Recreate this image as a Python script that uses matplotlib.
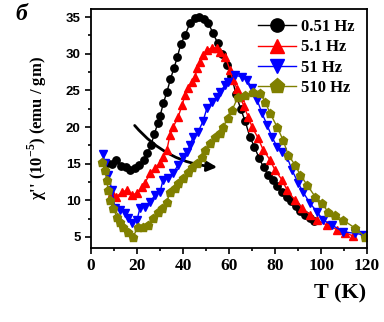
import matplotlib
matplotlib.use("Agg")
import matplotlib.pyplot as plt
from matplotlib.patches import FancyArrowPatch
from matplotlib.ticker import MultipleLocator

plt.rcParams['mathtext.fontset'] = 'custom'
plt.rcParams['mathtext.rm'] = 'Liberation Serif:bold'
plt.rcParams['mathtext.bf'] = 'Liberation Serif:bold'

# 0.51 Hz
t1 = [7, 9, 11, 13, 15, 17, 19, 21, 23, 24.5, 26, 27.5, 29, 30, 31.5, 33, 34.5, 36, 37.5,
      39, 41, 43, 45, 47, 49, 51, 53, 55, 57, 59, 61, 63, 65, 67, 69, 71, 73, 75, 77, 79,
      81, 83, 85, 87, 89, 91, 93, 95, 97]
v1 = [15.1, 14.9, 15.5, 14.7, 14.5, 14.2, 14.4, 14.8, 15.5, 16.4, 17.5, 19, 20.5, 21.5, 23.3,
      24.8, 26.5, 28, 29.5, 31.3, 32.6, 34.2, 34.9, 35, 34.7, 34.2, 32.8, 31.5, 30, 28.5, 27,
      24.5, 22.5, 20.8, 18.7, 17.3, 15.8, 14.5, 13.5, 12.8, 12, 11.2, 10.5, 9.9, 9.2, 8.6, 8,
      7.6, 7.2]

# 5.1 Hz
t2 = [9, 11, 13.5, 15.6, 17.8, 20, 22.2, 23.5, 25.7, 27.8, 30, 31.3, 33, 34.3, 35.7, 37.8,
      39.6, 40.9, 42.2, 43.9, 45.2, 46.1, 47.4, 48.7, 50.4, 52.6, 54.8, 56.1, 58.3, 60.4,
      61.7, 63.5, 64.8, 66.5, 68.3, 70, 72.6, 74.8, 77.8, 80, 83, 85.2, 88.7, 91.7, 95.2,
      98.3, 102.6, 107, 110.5, 114]
v2 = [11, 10.5, 11.1, 11.4, 10.7, 11, 11.8, 12.4, 13.7, 14.4, 15.1, 15.9, 16.9, 18.9, 20,
      21.3, 23, 24.4, 25.3, 26.1, 26.8, 28, 28.9, 29.8, 30.5, 30.8, 30.8, 30.2, 29.6, 27.8,
      26.4, 25.2, 24.1, 22.8, 21.4, 20, 18.5, 16.9, 15.5, 14.1, 12.8, 11.4, 10, 9, 8, 7.3,
      6.6, 6, 5.6, 5.1]

# 51 Hz
t3 = [5.2, 6, 7.4, 9.1, 10.4, 12.6, 14.8, 16.1, 17.8, 20, 21.3, 23.5, 25.7, 27.8, 30, 31.3,
      33.5, 35.7, 37.8, 40, 41.7, 43, 44.3, 46.5, 48.7, 50.4, 52.6, 54.8, 56, 58.3, 59.5,
      62.6, 65.7, 67.8, 70, 72.2, 74.3, 76.5, 78.7, 80.9, 83, 85.2, 87.4, 90, 92.2, 95.2,
      98.3, 100.9, 104.8, 109.6, 114.8, 118.3]
v3 = [16.3, 15.1, 13.5, 11.4, 9, 8.7, 8.3, 7.6, 6.9, 7.3, 9, 9.1, 9.8, 10.7, 11.1, 12.8, 13,
      13.7, 14.8, 15.9, 16.6, 17.5, 18.6, 19.3, 20.8, 22.6, 23.4, 24.1, 24.8, 25.7, 26.1,
      27.1, 26.8, 26.4, 25.3, 23.7, 21.9, 20.3, 18.6, 17.3, 16.6, 15.9, 14.1, 12.4, 11.1,
      9.6, 8.4, 7.3, 6.6, 5.7, 5.5, 5.3]

# 510 Hz
t4 = [4.8, 6, 6.8, 7.4, 8.3, 9.6, 11.3, 12.6, 13.9, 16.1, 18.3, 20.4, 22.6, 24.8, 27, 29.1,
      30.9, 33, 34.3, 36.5, 37.8, 40, 42.2, 43.9, 46.1, 48.3, 49.6, 51.7, 53.9, 56.1, 57.4,
      59.5, 61.3, 63.9, 67, 70.4, 73.5, 75.7, 77.8, 80.9, 83.5, 85.7, 88.7, 90.9, 93.9,
      97.4, 100.4, 103, 106, 109.6, 114.8, 119.1]
v4 = [15.2, 14.1, 12.8, 11.4, 10, 9, 7.7, 7, 6.4, 5.7, 5, 6.4, 6.4, 6.6, 7.6, 8.4, 9, 9.8,
      11.1, 11.7, 12.4, 13, 13.9, 14.5, 15.1, 15.9, 16.9, 17.8, 18.6, 19.2, 20, 21.2, 22.3,
      24.1, 24.4, 24.8, 24.6, 23.4, 21.9, 20, 18.2, 16.2, 14.8, 13.5, 12.1, 10.5, 9.6, 8.4,
      8, 7.3, 6.2, 5]

labels = ['0.51 Hz', '5.1 Hz', '51 Hz', '510 Hz']

fig = plt.figure(figsize=(3.84, 3.22), dpi=100)
ax = fig.add_axes([0.237, 0.23, 0.719, 0.742])

ax.plot(t1, v1, '-o', color='black', ms=5.3, lw=1, label=labels[0])
ax.plot(t2, v2, '-^', color='red', ms=5.8, lw=1, label=labels[1])
ax.plot(t3, v3, '-v', color='blue', ms=5.8, lw=1, label=labels[2])
ax.plot(t4, v4, '-p', color='#808000', ms=6.3, lw=1, label=labels[3])

# curved arrow (shift of the peak with frequency)
arr = FancyArrowPatch((18.2, 20.5), (56, 14.5), connectionstyle='arc3,rad=0.22',
                      arrowstyle='-|>,head_length=6,head_width=3', color='black', lw=2,
                      mutation_scale=1)
ax.add_patch(arr)

ax.set_xlim(0, 120)
ax.set_ylim(3.5, 36.1)
ax.xaxis.set_major_locator(MultipleLocator(20))
ax.xaxis.set_minor_locator(MultipleLocator(10))
ax.yaxis.set_major_locator(MultipleLocator(5))
ax.yaxis.set_minor_locator(MultipleLocator(2.5))
ax.tick_params(which='both', direction='out', top=False, right=False, width=1.2)
ax.tick_params(which='major', length=4)
ax.tick_params(which='minor', length=2.5)
for s in ax.spines.values():
    s.set_linewidth(1.3)

for lab in ax.get_xticklabels():
    lab.set_family('Liberation Serif')
    lab.set_fontweight('bold')
    lab.set_fontsize(12.5)
for lab in ax.get_yticklabels():
    lab.set_family('Liberation Sans')
    lab.set_fontweight('bold')
    lab.set_fontsize(9.5)

ax.set_ylabel("χ'' (10$^{-5}$) (emu / gm)", family='Liberation Serif', fontweight='bold',
              fontsize=12, labelpad=12)
fig.text(0.885, 0.09, 'T (K)', family='Liberation Serif', fontweight='bold', fontsize=16,
         ha='center', va='center')
fig.text(0.04, 0.955, 'б', family='Liberation Serif', fontweight='bold', style='italic',
         fontsize=17, ha='left', va='center')

ax.legend(loc='upper right', bbox_to_anchor=(1.01, 1.02), frameon=False, markerscale=1.8,
          handlelength=2.3, handletextpad=0.3, labelspacing=0.25,
          prop={'family': 'Liberation Serif', 'weight': 'bold', 'size': 12})

fig.savefig('out.png', dpi=100)
